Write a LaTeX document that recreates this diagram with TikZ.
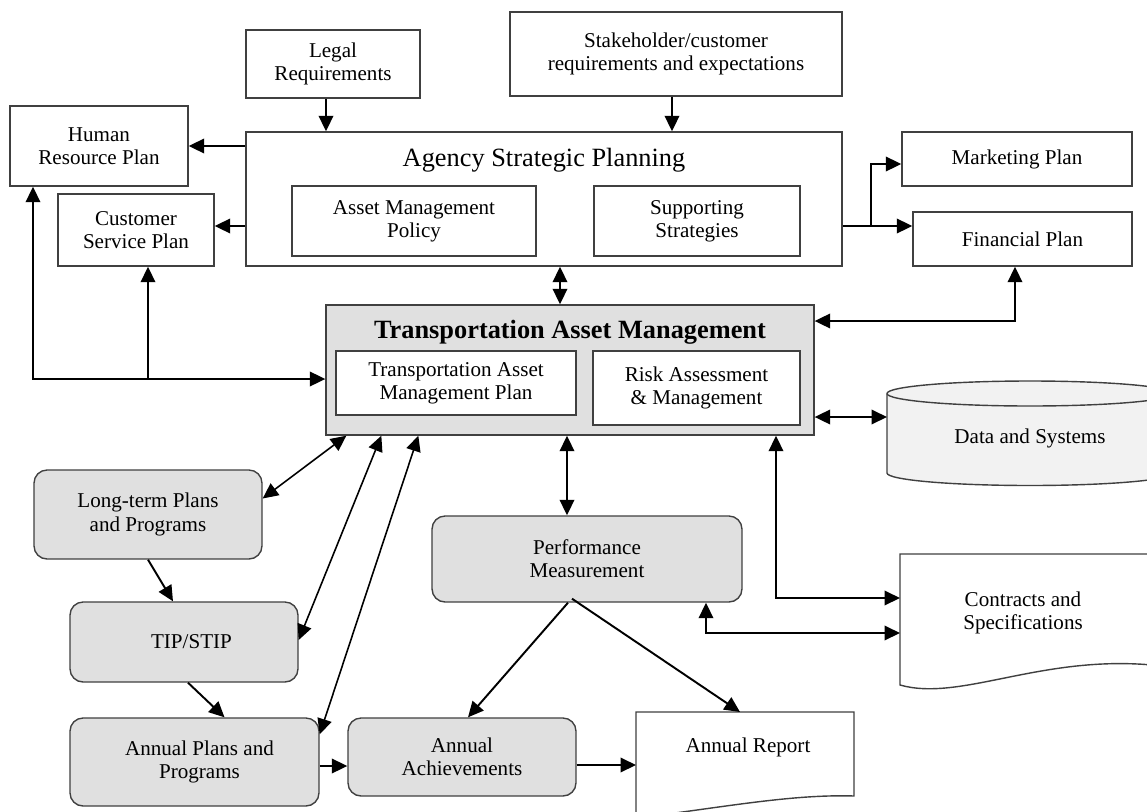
\documentclass[tikz,border=0pt]{standalone}
\usepackage{fontspec}
\setmainfont{Liberation Serif}
\usetikzlibrary{arrows.meta,calc}
\definecolor{boxgray}{HTML}{E0E0E0}
\definecolor{cylgray}{HTML}{F2F2F2}
\definecolor{edgegray}{HTML}{404040}
\tikzset{
  box/.style={draw=edgegray, line width=0.8pt, fill=white, align=center, inner sep=0pt, font=\fontsize{12}{13.2}\selectfont},
  gbox/.style={box, fill=boxgray, rounded corners=0.26cm},
  txt/.style={align=center, inner sep=0pt, font=\fontsize{12}{13.2}\selectfont},
  shapeline/.style={draw=edgegray, line width=0.8pt},
  arr/.style={-{Triangle[length=0.31cm,width=0.29cm]}, line width=1.1pt},
  darr/.style={{Triangle[length=0.31cm,width=0.29cm]}-{Triangle[length=0.31cm,width=0.29cm]}, line width=1.1pt},
  tarr/.style={{Triangle[length=0.31cm,width=0.29cm]}-{Triangle[length=0.31cm,width=0.29cm]}, line width=0.9pt},
}
\begin{document}
\begin{tikzpicture}[x=0.02cm,y=-0.02cm]
\useasboundingbox (0,0) rectangle (1147,812);
\clip (0,0) rectangle (1147,812);
\fill[white] (0,0) rectangle (1147,812);

% top row
\node[box, minimum width=3.48cm, minimum height=1.36cm] (legal) at (333,64) {Legal\\Requirements};
\node[box, minimum width=6.64cm, minimum height=1.68cm] (stake) at (676,54) {Stakeholder/customer\\requirements and expectations};
\node[box, minimum width=3.56cm, minimum height=1.6cm] (hrp) at (99,146) {Human\\Resource Plan};
\node[box, minimum width=3.12cm, minimum height=1.44cm] (csp) at (136,230) {Customer\\Service Plan};

% agency strategic planning
\node[box, minimum width=11.92cm, minimum height=2.68cm] (asp) at (544,199) {};
\node[txt, font=\fontsize{15}{18}\selectfont] (asptitle) at (544,160) {Agency Strategic Planning};
\node[box, minimum width=4.88cm, minimum height=1.4cm] (amp) at (414,221) {Asset Management\\Policy};
\node[box, minimum width=4.12cm, minimum height=1.4cm] (ss) at (697,221) {Supporting\\Strategies};

\node[box, minimum width=4.6cm, minimum height=1.08cm] (mkt) at (1017,159) {Marketing Plan};
\node[box, minimum width=4.38cm, minimum height=1.08cm] (fin) at (1022.5,239) {Financial Plan};

% transportation asset management
\node[box, fill=boxgray, minimum width=9.76cm, minimum height=2.6cm] (tam) at (570,370) {};
\node[txt, font=\bfseries\fontsize{15}{18}\selectfont] (tamtitle) at (570,332) {Transportation Asset Management};
\node[box, minimum width=4.8cm, minimum height=1.28cm] (tamp) at (456,383) {Transportation Asset\\Management Plan};
\node[box, minimum width=4.14cm, minimum height=1.48cm] (risk) at (696.5,388) {Risk Assessment\\\& Management};

% data and systems cylinder
\draw[shapeline, fill=cylgray] (887,393.5) -- (887,473)
  arc[start angle=180, end angle=360, x radius=2.86cm, y radius=0.25cm]
  -- (1173,393.5)
  arc[start angle=0, end angle=180, x radius=2.86cm, y radius=0.25cm] -- cycle;
\draw[shapeline] (887,393.5) arc[start angle=180, end angle=360, x radius=2.86cm, y radius=0.25cm];
\node[txt] (data) at (1030,438) {Data and Systems};
\coordinate (dw) at (887,417);

% contracts document
\draw[shapeline, fill=white] (900,685) -- (900,554) -- (1152,554) -- (1152,665)
  .. controls (1040,655) and (960,702) .. (900,685) -- cycle;
\node[txt] (contracts) at (1023,613) {Contracts and\\Specifications};
\coordinate (c1e) at (900,598);
\coordinate (c2e) at (900,633);

% lower gray boxes
\node[gbox, minimum width=6.2cm, minimum height=1.72cm] (pm) at (587,559) {Performance\\Measurement};
\node[gbox, minimum width=4.56cm, minimum height=1.56cm] (aa) at (462,757) {Annual\\Achievements};
\node[gbox, minimum width=4.56cm, minimum height=1.78cm] (lt) at (148,514.5) {Long-term Plans\\and Programs};
\node[gbox, minimum width=4.56cm, minimum height=1.6cm] (tip) at (184,642) {\hspace*{0.3cm}TIP/STIP};
\node[gbox, minimum width=4.98cm, minimum height=1.76cm] (ap) at (194.5,762) {\hspace*{0.2cm}Annual Plans and\\\hspace*{0.2cm}Programs};

% annual report document
\draw[shapeline, fill=white] (636,818) -- (636,712) -- (854,712) -- (854,796)
  .. controls (790,794) and (720,808) .. (636,818) -- cycle;
\node[txt] (ar) at (748,747) {Annual Report};
\coordinate (arw) at (636,765);
\coordinate (arn) at (740,712);

% connectors: top
\draw[arr] ($(legal.south)+(-7,0)$) -- ($(legal.south |- asp.north)+(-7,0)$);
\draw[arr] ($(stake.south)+(-4,0)$) -- ($(stake.south |- asp.north)+(-4,0)$);
\draw[arr] (asp.west |- hrp.east) -- (hrp.east);
\draw[arr] ($(asp.west |- csp.east)+(0,-4)$) -- ($(csp.east)+(0,-4)$);
\coordinate (br) at (871,226);
\draw[arr] (asp.east |- br) -- (fin.west |- br);
\draw[arr] (br) |- ($(mkt.west)+(0,5)$);
\coordinate (fc) at (1015,321);
\draw[darr] (tam.east |- fc) -| (fin.south -| fc);
\coordinate (x560) at (560,0);
\draw[darr] (asp.south -| x560) -- (tam.north -| x560);

% left loop
\coordinate (lc) at (33,379);
\coordinate (lc2) at (148,379);
\draw[darr] (lc |- hrp.south) -- (lc) -- (tam.west |- lc);
\draw[arr] (lc2) -- (lc2 |- csp.south);

% right side
\draw[darr] (tam.east |- dw) -- (dw);
\coordinate (c1) at (776,598);
\draw[darr] (tam.south -| c1) -- (c1) -- (c1e);
\coordinate (c2) at (706,633);
\draw[darr] (pm.south -| c2) -- (c2) -- (c2e);
\coordinate (x567) at (567,0);
\draw[darr] (tam.south -| x567) -- (pm.north -| x567);

% performance measurement outputs
\draw[arr] ($(pm.south)+(-19,0)$) -- ($(aa.north)+(6,0)$);
\draw[arr] ($(pm.south)+(-15,-4)$) -- (arn);
\draw[arr] ($(aa.east)+(0,8)$) -- (arw);
\coordinate (apa) at ($(ap.east)+(0,4)$);
\draw[arr] (apa) -- (apa -| aa.west);

% left column
\draw[arr] (lt.south) -- ($(tip.north)+(-11,0)$);
\draw[arr] ($(tip.south)+(4,0)$) -- ($(ap.north)+(30,0)$);
\draw[tarr] ($(lt.east)+(0,-16)$) -- ($(tam.south west)+(21,0)$);
\draw[tarr] ($(tip.east)+(0,-2)$) -- ($(tam.south west)+(56,0)$);
\draw[tarr] ($(ap.north east)+(0,17)$) -- ($(tam.south west)+(93,0)$);
\end{tikzpicture}
\end{document}
